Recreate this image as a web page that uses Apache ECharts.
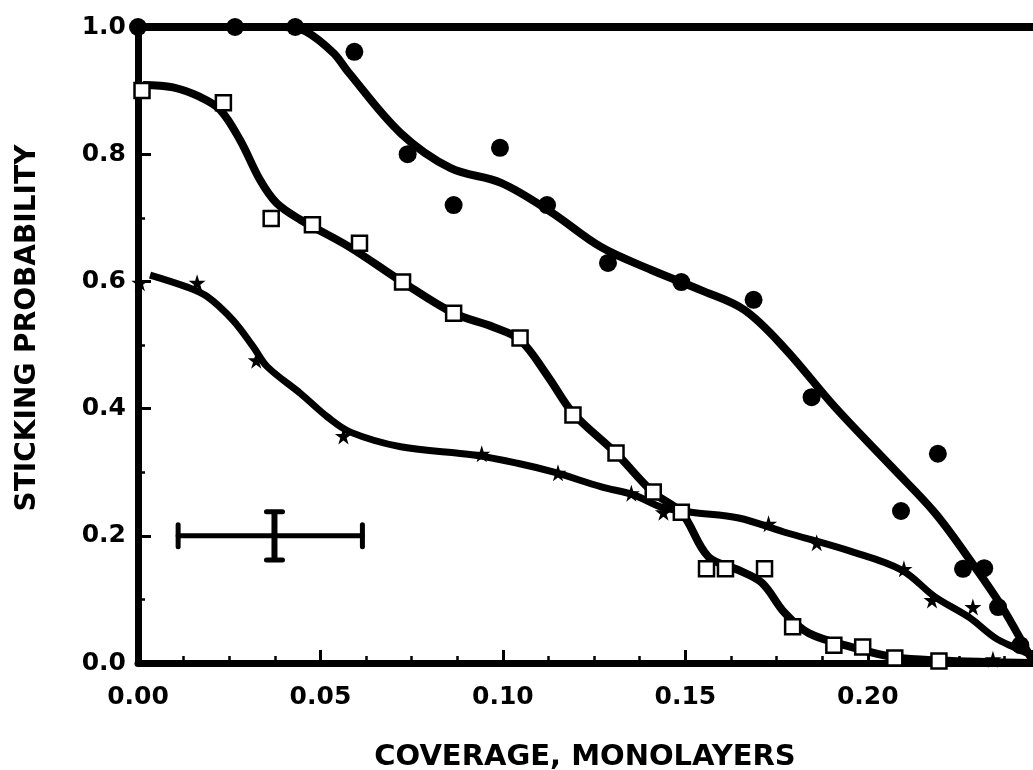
<!DOCTYPE html>
<html>
<head>
<meta charset="utf-8">
<script src="https://cdn.jsdelivr.net/npm/echarts@6/dist/echarts.min.js"></script>
<style>html,body{margin:0;padding:0;background:#fff}#c{width:1033px;height:770px}</style>
</head>
<body>
<div id="c"></div>
<script>
// ---- data ----
var xTitle = 'COVERAGE, MONOLAYERS';
var yTitle = 'STICKING PROBABILITY';
var xTicks = [0.00, 0.05, 0.10, 0.15, 0.20];
var yTicks = [0.0, 0.2, 0.4, 0.6, 0.8, 1.0];

// filled circles: measured points
var circlePts = [[0.0,1.0],[0.0266,1.0],[0.0431,1.0],[0.0593,0.961],[0.0739,0.800],[0.0865,0.720],
  [0.0992,0.810],[0.1121,0.720],[0.1288,0.629],[0.1489,0.599],[0.1687,0.571],[0.1846,0.418],
  [0.2091,0.239],[0.2192,0.329],[0.2261,0.148],[0.2319,0.149],[0.2357,0.088],[0.2418,0.028]];
// filled circles: fitted curve
var circleCurve = [[0.0,1.0],[0.040,1.0],[0.046,0.993],[0.0536,0.959],[0.0575,0.930],[0.072,0.833],
  [0.0857,0.778],[0.0995,0.755],[0.1132,0.709],[0.1269,0.654],[0.1407,0.618],[0.1544,0.586],
  [0.1662,0.555],[0.1772,0.495],[0.1909,0.403],[0.2066,0.308],[0.2184,0.236],
  [0.2286,0.157],[0.2368,0.088],[0.2431,0.025],[0.245,0.005]];

// open squares: measured points
var squarePts = [[0.0011,0.900],[0.0234,0.881],[0.0365,0.699],[0.0478,0.689],[0.0607,0.660],[0.0725,0.599],
  [0.0865,0.550],[0.1047,0.511],[0.1192,0.390],[0.1310,0.330],[0.1412,0.269],[0.1489,0.237],
  [0.1558,0.148],[0.1610,0.148],[0.1717,0.148],[0.1794,0.057],[0.1907,0.028],[0.1986,0.025],
  [0.2074,0.008],[0.2195,0.003]];
// open squares: fitted curve
var squareCurve = [[0.0014,0.909],[0.0096,0.905],[0.017,0.890],[0.0225,0.870],[0.028,0.822],[0.0335,0.759],
  [0.038,0.723],[0.0445,0.697],[0.058,0.654],[0.0725,0.599],[0.0865,0.550],[0.0975,0.528],
  [0.1047,0.508],[0.1124,0.450],[0.1192,0.393],[0.131,0.330],[0.141,0.269],[0.149,0.236],
  [0.1563,0.167],[0.1646,0.146],[0.171,0.126],[0.1772,0.079],[0.1838,0.047],[0.1956,0.025],
  [0.2074,0.009],[0.2195,0.004],[0.245,0.0]];

// stars: measured points
var starPts = [[0.0005,0.598],[0.0162,0.598],[0.0324,0.476],[0.0563,0.357],[0.0942,0.329],[0.1151,0.299],
  [0.1352,0.267],[0.1440,0.237],[0.1728,0.219],[0.1860,0.189],[0.2099,0.148],[0.2176,0.099],
  [0.2288,0.088],[0.2343,0.006]];
// stars: fitted curve
var starCurve = [[0.0033,0.610],[0.0135,0.591],[0.019,0.576],[0.026,0.539],[0.0316,0.497],[0.0354,0.466],
  [0.0445,0.424],[0.0519,0.387],[0.0582,0.363],[0.072,0.340],[0.092,0.327],[0.104,0.314],
  [0.114,0.300],[0.127,0.277],[0.136,0.264],[0.1434,0.245],[0.1516,0.237],[0.1646,0.228],
  [0.177,0.206],[0.1956,0.175],[0.2093,0.146],[0.2184,0.104],[0.2277,0.072],[0.235,0.039],
  [0.2404,0.024],[0.245,0.012]];

// representative error bar
var errCenter = [0.0374, 0.2];
var errX = [0.0110, 0.0615];
var errY = [0.162, 0.238];

// ---- chart ----
var FONT = '"DejaVu Sans", sans-serif';
var STAR = 'path://M50,0 L61,35 L98,35 L68,57 L79,91 L50,70 L21,91 L32,57 L2,35 L39,35 Z';
var chart = echarts.init(document.getElementById('c'), null, {renderer: 'canvas'});

function curve(data, w) {
  return {type: 'line', data: data, smooth: 0.35, showSymbol: false, symbol: 'none',
    lineStyle: {color: '#000', width: w, opacity: 1}, z: 3, silent: true};
}

chart.setOption({
  animation: false,
  backgroundColor: '#fff',
  grid: {left: 138, right: 1, top: 27, bottom: 107, containLabel: false, outerBoundsMode: 'none'},
  xAxis: [{
    type: 'value', min: 0, max: 0.245, interval: 0.05, position: 'bottom',
    name: xTitle, nameLocation: 'middle', nameGap: 80,
    nameTextStyle: {fontFamily: FONT, fontWeight: 'bold', fontSize: 29, color: '#000'},
    axisLine: {show: true, onZero: false, lineStyle: {color: '#000', width: 7}},
    axisTick: {show: true, inside: true, length: 13, lineStyle: {color: '#000', width: 3}},
    minorTick: {show: true, splitNumber: 4, length: 7, lineStyle: {color: '#000', width: 2.5}},
    splitLine: {show: false}, minorSplitLine: {show: false},
    axisLabel: {show: true, margin: 22, showMaxLabel: false, fontFamily: FONT, fontWeight: 'bold', fontSize: 25, color: '#000',
      formatter: function (v) { return xTicks.some(function (t) { return Math.abs(t - v) < 1e-9; }) ? v.toFixed(2) : ''; }}
  }, {
    type: 'value', min: 0, max: 0.245, position: 'top',
    axisLine: {show: true, onZero: false, lineStyle: {color: '#000', width: 8}},
    axisTick: {show: false}, axisLabel: {show: false}, splitLine: {show: false}
  }],
  yAxis: [{
    type: 'value', min: 0, max: 1, interval: 0.2,
    name: yTitle, nameLocation: 'middle', nameGap: 96, nameRotate: 90,
    nameTextStyle: {fontFamily: FONT, fontWeight: 'bold', fontSize: 28, color: '#000', padding: [0, 0, 0, 34]},
    axisLine: {show: true, onZero: false, lineStyle: {color: '#000', width: 7}},
    axisTick: {show: true, inside: true, length: 13, lineStyle: {color: '#000', width: 3}},
    minorTick: {show: true, splitNumber: 2, length: 7, lineStyle: {color: '#000', width: 2.5}},
    splitLine: {show: false}, minorSplitLine: {show: false},
    axisLabel: {show: true, margin: 12, fontFamily: FONT, fontWeight: 'bold', fontSize: 25, color: '#000',
      formatter: function (v) { return v.toFixed(1); }}
  }],
  series: [
    curve(circleCurve, 8),
    curve(squareCurve, 8),
    curve(starCurve, 7),
    {type: 'scatter', data: circlePts, symbol: 'circle', symbolSize: 18,
      itemStyle: {color: '#000', opacity: 1}, z: 5},
    {type: 'scatter', data: squarePts, symbol: 'rect', symbolSize: 15,
      itemStyle: {color: '#fff', borderColor: '#000', borderWidth: 2.5, opacity: 1}, z: 5},
    {type: 'scatter', data: starPts, symbol: STAR, symbolSize: 17,
      itemStyle: {color: '#000', opacity: 1}, z: 5},
    {type: 'custom', z: 4, silent: true,
      data: [[errCenter[0], errCenter[1], errX[0], errX[1], errY[0], errY[1]]],
      renderItem: function (params, api) {
        var l = api.coord([api.value(2), api.value(1)]);
        var r = api.coord([api.value(3), api.value(1)]);
        var b = api.coord([api.value(0), api.value(4)]);
        var t = api.coord([api.value(0), api.value(5)]);
        var st = {stroke: '#000', lineWidth: 5, lineCap: 'round'};
        var cap = 11, capw = 8;
        return {type: 'group', children: [
          {type: 'line', shape: {x1: l[0], y1: l[1], x2: r[0], y2: r[1]}, style: st},
          {type: 'line', shape: {x1: l[0], y1: l[1] - cap, x2: l[0], y2: l[1] + cap}, style: st},
          {type: 'line', shape: {x1: r[0], y1: r[1] - cap, x2: r[0], y2: r[1] + cap}, style: st},
          {type: 'line', shape: {x1: b[0], y1: b[1], x2: t[0], y2: t[1]}, style: {stroke: '#000', lineWidth: 6}},
          {type: 'line', shape: {x1: t[0] - capw, y1: t[1], x2: t[0] + capw, y2: t[1]}, style: st},
          {type: 'line', shape: {x1: b[0] - capw, y1: b[1], x2: b[0] + capw, y2: b[1]}, style: st}
        ]};
      }}
  ]
});
</script>
</body>
</html>
